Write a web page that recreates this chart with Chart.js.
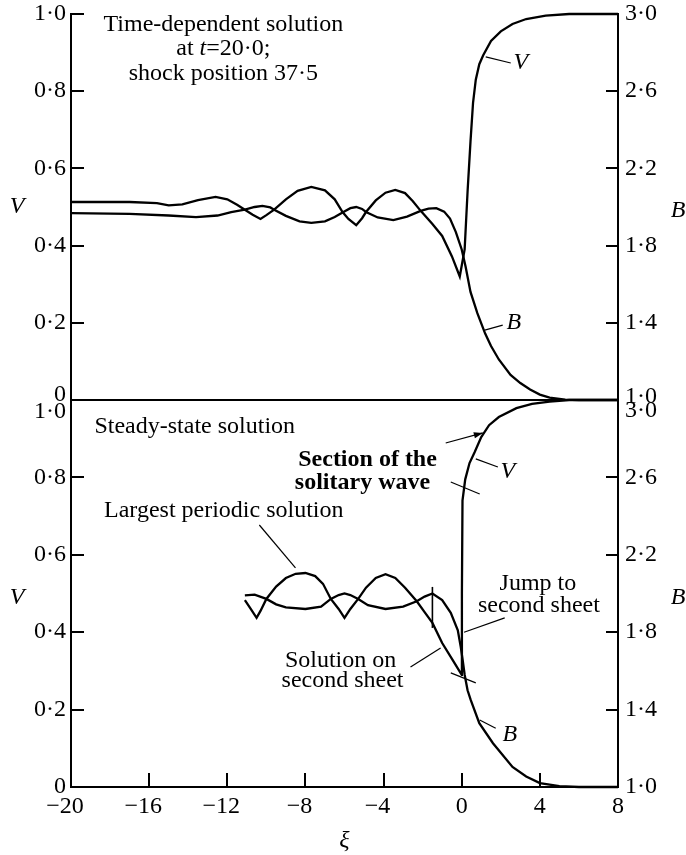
<!DOCTYPE html>
<html><head><meta charset="utf-8">
<script src="https://cdn.jsdelivr.net/npm/chart.js@4.4.1/dist/chart.umd.min.js"></script>
<style>
html,body{margin:0;padding:0;background:#fff;width:686px;height:855px;overflow:hidden;}
#c1{position:absolute;left:0;top:0;}
#c2{position:absolute;left:0;top:380px;}
</style></head><body>
<canvas id="c1" width="686" height="420"></canvas>
<canvas id="c2" width="686" height="475"></canvas>
<script>
// ---------- data ----------
const xTickValues = [-20, -16, -12, -8, -4, 0, 4, 8];
const vTickValues = [0, 0.2, 0.4, 0.6, 0.8, 1.0];
const bTickValues = [1.0, 1.4, 1.8, 2.2, 2.6, 3.0];

// Top panel: time-dependent solution at t = 20.0
const topXiV = [-20,-17,-15.6,-15,-14.3,-13.5,-12.6,-12,-11.5,-11.1,-10.7,-10.3,-10,-9.6,-9,-8.4,-7.7,-7,-6.5,-6.1,-5.8,-5.4,-5.1,-4.9,-4.4,-3.9,-3.4,-2.9,-2.5,-2.1,-1.5,-1,-0.5,-0.1,0.15,0.3,0.45,0.58,0.72,0.9,1.1,1.5,2,2.6,3.3,4.3,5.5,8];
const topV   = [.513,.513,.510,.504,.507,.518,.526,.520,.506,.493,.480,.469,.479,.493,.520,.542,.552,.543,.520,.487,.469,.453,.471,.487,.517,.537,.544,.536,.515,.490,.456,.425,.372,.32,.39,.54,.67,.77,.83,.87,.893,.93,.955,.974,.987,.996,1,1];
const topXiB = [-20,-17,-15,-13.6,-12.5,-11.8,-11.1,-10.6,-10.2,-9.8,-9.6,-9,-8.3,-7.7,-7,-6.5,-6.1,-5.7,-5.4,-5.1,-4.9,-4.3,-3.5,-2.8,-2.1,-1.7,-1.3,-0.9,-0.6,-0.3,0,0.2,0.45,0.8,1.2,1.5,1.9,2.5,3,3.5,4,4.5,5.3,6,8];
const topB   = [1.968,1.964,1.956,1.948,1.956,1.974,1.986,2.000,2.006,1.998,1.986,1.954,1.926,1.918,1.926,1.948,1.972,1.994,2.000,1.990,1.974,1.946,1.932,1.950,1.980,1.992,1.994,1.976,1.94,1.87,1.78,1.69,1.56,1.45,1.344,1.28,1.21,1.13,1.088,1.054,1.028,1.012,1.002,1.0,1.0];

// Bottom panel: steady-state solution
const botXiV = [-11.1,-10.8,-10.5,-10.3,-10,-9.5,-9,-8.5,-8,-7.5,-7.1,-6.7,-6.3,-6,-5.7,-5.3,-4.9,-4.4,-3.9,-3.4,-2.9,-2.3,-1.9,-1.5,-1,-0.46,0,0.01,0.04,0.18,0.4,0.66,1,1.4,1.9,2.8,3.6,4.5,5.5,8];
const botV   = [.483,.46,.437,.455,.486,.518,.540,.551,.553,.545,.525,.486,.46,.437,.46,.486,.515,.54,.55,.54,.515,.48,.452,.424,.372,.328,.29,.5,.74,.795,.837,.865,.904,.935,.956,.979,.99,.996,1,1];
const botXiB = [-11.1,-10.6,-10,-9.5,-9,-8,-7.2,-6.7,-6.3,-6,-5.7,-5.3,-4.8,-3.9,-3,-2.3,-1.9,-1.5,-1,-0.56,-0.2,-0.05,0.05,0.15,0.3,0.46,0.9,1.6,2.6,3.3,4,5,6,8];
const botB   = [1.99,1.994,1.972,1.944,1.928,1.92,1.932,1.972,1.992,2.0,1.992,1.972,1.94,1.92,1.932,1.96,1.984,2.0,1.966,1.90,1.81,1.724,1.656,1.58,1.50,1.45,1.33,1.226,1.104,1.054,1.02,1.004,1.0,1.0];

// ---------- helpers ----------
const fontFam = "'Liberation Serif','Times New Roman',serif";
const FS = 24;
function fmtDec(v){ return Math.abs(v) < 1e-9 ? '0' : v.toFixed(1).replace('.', '\u00B7'); }
// minus sign hangs to the left, digits stay centred on the tick
function fmtX(v){ return v < 0 ? '\u2212' + Math.abs(v) + '\u2002' : String(v); }
function pts(xs, ys){ return xs.map((x, i) => ({x: x, y: ys[i]})); }
function noPad(s){ s.paddingTop = 0; s.paddingBottom = 0; s.paddingLeft = 0; s.paddingRight = 0; }

function yScale(pos, vals, min, max, hideVal){
  return {
    type: 'linear', position: pos, min: min, max: max,
    afterBuildTicks: s => { s.ticks = vals.map(v => ({value: v})); },
    afterFit: s => { s.width = pos === 'left' ? 71 : 68; noPad(s); },
    ticks: { color: '#000', font: {family: fontFam, size: FS}, padding: pos === 'left' ? 18 : 19,
      callback: v => Math.abs(v - hideVal) < 1e-6 ? '' : fmtDec(v) },
    grid: { drawOnChartArea: false, drawTicks: true, tickLength: pos === 'left' ? -13 : -12, color: '#000', lineWidth: 2 },
    border: { display: true, color: '#000', width: 2 }
  };
}
function ds(data, axis){
  return { data: data, yAxisID: axis, borderColor: '#000', borderWidth: 2.3, pointRadius: 0,
           tension: 0, fill: false, clip: false };
}

function drawText(ctx, runs, x, y, align, baseline){
  ctx.textBaseline = baseline || 'alphabetic';
  let total = 0;
  runs.forEach(r => { ctx.font = r.f; total += ctx.measureText(r.t).width; });
  let sx = align === 'center' ? x - total / 2 : (align === 'right' ? x - total : x);
  ctx.textAlign = 'left';
  runs.forEach(r => { ctx.font = r.f; ctx.fillText(r.t, sx, y); sx += ctx.measureText(r.t).width; });
}
const NORMAL = FS + 'px ' + fontFam, ITAL = 'italic ' + FS + 'px ' + fontFam, BOLD = 'bold ' + FS + 'px ' + fontFam;

function annotPlugin(spec){
  return { id: 'annot', afterDraw(chart){
    const ctx = chart.ctx, sx = chart.scales.x, sv = chart.scales.yV, sb = chart.scales.yB;
    const X = v => sx.getPixelForValue(v), Y = v => sv.getPixelForValue(v);
    ctx.save();
    ctx.fillStyle = '#000'; ctx.strokeStyle = '#000';
    spec.texts.forEach(t => drawText(ctx, t.runs, X(t.x), Y(t.y), t.align, t.baseline));
    spec.lines.forEach(l => {
      ctx.lineWidth = l.w || 1.2;
      const x1 = X(l.a[0]), y1 = Y(l.a[1]), x2 = X(l.b[0]), y2 = Y(l.b[1]);
      ctx.beginPath(); ctx.moveTo(x1, y1); ctx.lineTo(x2, y2); ctx.stroke();
      if (l.arrow){
        const ang = Math.atan2(y2 - y1, x2 - x1), L = 9, H = 3;
        ctx.beginPath();
        ctx.moveTo(x2, y2);
        ctx.lineTo(x2 - L*Math.cos(ang) + H*Math.sin(ang), y2 - L*Math.sin(ang) - H*Math.cos(ang));
        ctx.lineTo(x2 - L*Math.cos(ang) - H*Math.sin(ang), y2 - L*Math.sin(ang) + H*Math.cos(ang));
        ctx.closePath(); ctx.fill();
      }
    });
    // axis titles (upright italic)
    ctx.font = ITAL; ctx.textAlign = 'center'; ctx.textBaseline = 'middle';
    ctx.fillText('V', 17, Y(spec.vTitle));
    ctx.fillText('B', 678, sb.getPixelForValue(spec.bTitle));
    // boundary tick labels, offset as in the reference
    ctx.font = NORMAL;
    spec.edge.forEach(e => {
      ctx.textAlign = e.side === 'left' ? 'right' : 'left';
      const px = e.side === 'left' ? chart.chartArea.left - 5 : chart.chartArea.right + 7;
      const py = (e.side === 'left' ? sv : sb).getPixelForValue(e.v) + e.dy;
      ctx.fillText(fmtDec(e.v), px, py);
    });
    ctx.restore();
  }};
}

const topSpec = {
  texts: [
    {runs: [{t: 'Time-dependent solution', f: NORMAL}], x: -12.2, y: 0.955, align: 'center'},
    {runs: [{t: 'at ', f: NORMAL}, {t: 't', f: ITAL}, {t: '=20\u00B70;', f: NORMAL}], x: -12.2, y: 0.894, align: 'center'},
    {runs: [{t: 'shock position 37\u00B75', f: NORMAL}], x: -12.2, y: 0.829, align: 'center'},
    {runs: [{t: 'V', f: ITAL}], x: 3.03, y: 0.873, align: 'center', baseline: 'middle'},
    {runs: [{t: 'B', f: ITAL}], x: 2.67, y: 0.199, align: 'center', baseline: 'middle'}
  ],
  lines: [
    {a: [1.23, 0.889], b: [2.51, 0.873]},
    {a: [1.18, 0.181], b: [2.1, 0.194]}
  ],
  edge: [{side: 'left', v: 0, dy: -5}, {side: 'right', v: 1.0, dy: -3}],
  vTitle: 0.5, bTitle: 1.98
};
const botSpec = {
  texts: [
    {runs: [{t: 'Steady-state solution', f: NORMAL}], x: -18.8, y: 0.915, align: 'left'},
    {runs: [{t: 'Section of the', f: BOLD}], x: -4.82, y: 0.829, align: 'center'},
    {runs: [{t: 'solitary wave', f: BOLD}], x: -5.08, y: 0.770, align: 'center'},
    {runs: [{t: 'V', f: ITAL}], x: 2.36, y: 0.814, align: 'center', baseline: 'middle'},
    {runs: [{t: 'Largest periodic solution', f: NORMAL}], x: -12.18, y: 0.698, align: 'center'},
    {runs: [{t: 'Jump to', f: NORMAL}], x: 3.9, y: 0.509, align: 'center'},
    {runs: [{t: 'second sheet', f: NORMAL}], x: 3.95, y: 0.452, align: 'center'},
    {runs: [{t: 'Solution on', f: NORMAL}], x: -6.2, y: 0.31, align: 'center'},
    {runs: [{t: 'second sheet', f: NORMAL}], x: -6.1, y: 0.258, align: 'center'},
    {runs: [{t: 'B', f: ITAL}], x: 2.46, y: 0.134, align: 'center', baseline: 'middle'}
  ],
  lines: [
    {a: [-0.82, 0.889], b: [1.08, 0.915], arrow: true},
    {a: [0.72, 0.848], b: [1.85, 0.827]},
    {a: [-0.56, 0.788], b: [0.92, 0.757]},
    {a: [-10.36, 0.677], b: [-8.51, 0.566]},
    {a: [2.2, 0.437], b: [0.12, 0.40]},
    {a: [-2.62, 0.31], b: [-1.08, 0.359]},
    {a: [-0.56, 0.295], b: [0.72, 0.269]},
    {a: [-1.5, 0.517], b: [-1.5, 0.411], w: 1.6},
    {a: [0.92, 0.173], b: [1.74, 0.152]}
  ],
  edge: [{side: 'left', v: 1.0, dy: 12}, {side: 'right', v: 3.0, dy: 11}],
  vTitle: 0.488, bTitle: 1.976
};

const common = {
  responsive: false, animation: false, events: [],
  plugins: { legend: {display: false}, tooltip: {enabled: false} }
};

new Chart(document.getElementById('c1'), {
  type: 'line',
  data: { datasets: [ ds(pts(topXiV, topV), 'yV'), ds(pts(topXiB, topB), 'yB') ] },
  options: Object.assign({}, common, {
    layout: { padding: {top: 14, left: 0, right: 0, bottom: 0} },
    scales: {
      x: { type: 'linear', min: -20, max: 8, position: 'bottom',
           afterFit: s => { s.height = 20; noPad(s); },
           ticks: {display: false}, grid: {display: false},
           border: {display: true, color: '#000', width: 2} },
      yV: yScale('left', vTickValues, 0, 1, 0),
      yB: yScale('right', bTickValues, 1, 3, 1.0)
    }
  }),
  plugins: [annotPlugin(topSpec)]
});

new Chart(document.getElementById('c2'), {
  type: 'line',
  data: { datasets: [ ds(pts(botXiV, botV), 'yV'), ds(pts(botXiB, botB), 'yB') ] },
  options: Object.assign({}, common, {
    layout: { padding: {top: 20, left: 0, right: 0, bottom: 0} },
    scales: {
      x: { type: 'linear', min: -20, max: 8, position: 'bottom',
           afterBuildTicks: s => { s.ticks = xTickValues.map(v => ({value: v})); },
           afterFit: s => { s.height = 68; noPad(s); },
           ticks: { color: '#000', font: {family: fontFam, size: FS}, padding: 19, maxRotation: 0, autoSkip: false,
                    callback: v => fmtX(v) },
           grid: { drawOnChartArea: false, drawTicks: true, tickLength: -14, color: '#000', lineWidth: 2 },
           border: { display: true, color: '#000', width: 2 },
           title: { display: true, text: '\u03BE', color: '#000', font: {family: fontFam, size: FS, style: 'italic'},
                    padding: {top: 0, bottom: 0} } },
      yV: yScale('left', vTickValues, 0, 1, 1.0),
      yB: yScale('right', bTickValues, 1, 3, 3.0)
    }
  }),
  plugins: [annotPlugin(botSpec)]
});
</script>
</body></html>
